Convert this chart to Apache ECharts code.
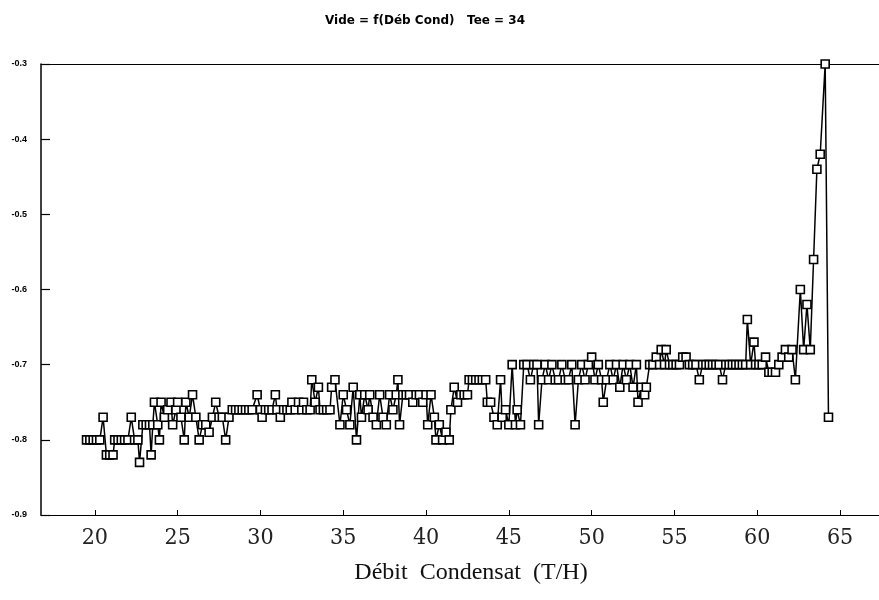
<!DOCTYPE html>
<html>
<head>
<meta charset="utf-8">
<script src="https://cdn.jsdelivr.net/npm/echarts@6/dist/echarts.min.js"></script>
<style>html,body{margin:0;padding:0;background:#fff;}#c{width:879px;height:600px;}</style>
</head>
<body>
<div id="c"></div>
<script>
// Débit condensat (T/H)
const debit = [
  19.5,19.7,19.9,20.1,20.3,20.5,20.7,20.9,21.1,21.2,21.4,21.6,21.8,22.0,22.2,22.4,22.6,22.7,
  22.9,23.1,23.3,23.4,23.5,23.6,23.8,23.9,24.0,24.2,24.4,24.6,24.7,24.9,25.0,25.2,25.4,25.5,25.7,25.9,26.1,26.3,26.5,26.7,26.9,27.1,27.3,27.5,27.7,27.9,28.1,
  28.3,28.5,28.7,28.9,29.1,29.3,29.5,29.8,30.0,30.1,30.3,30.5,30.7,30.9,31.0,31.2,31.4,31.6,31.8,31.9,32.1,32.3,32.5,32.6,32.8,33.0,33.1,33.3,33.5,33.6,33.8,34.0,34.2,34.3,34.5,
  34.8,35.0,35.2,35.4,35.6,35.8,36.0,36.1,36.3,36.5,36.6,36.8,37.0,37.2,37.4,37.6,37.8,38.0,38.2,38.3,38.4,38.6,
  38.8,39.0,39.2,39.4,39.6,39.8,40.0,40.1,40.3,40.5,40.6,40.8,41.0,41.2,41.4,41.5,41.7,41.9,42.1,42.3,42.5,42.6,42.8,43.0,43.2,43.4,43.6,43.7,43.9,44.1,44.3,44.5,44.6,44.8,45.0,45.2,45.4,
  45.5,45.7,45.9,46.1,46.3,46.5,46.7,46.8,47.0,47.2,47.4,47.6,47.8,48.0,48.2,48.4,48.6,48.8,49.0,49.2,49.4,49.6,49.8,50.0,50.2,50.4,50.6,50.7,50.9,51.1,51.3,51.5,51.7,51.9,52.1,52.3,52.5,52.7,52.8,53.0,53.2,53.3,53.5,53.7,53.9,54.1,
  54.2,54.4,54.5,54.7,54.9,55.1,55.3,55.5,55.7,55.9,56.1,56.3,56.5,56.7,56.9,57.1,57.3,57.5,57.7,57.9,58.1,58.3,58.5,58.7,58.9,59.1,59.3,59.4,59.6,59.8,59.9,
  60.1,60.3,60.5,60.7,60.9,61.1,61.3,61.5,61.7,61.9,62.1,62.3,62.6,62.8,63.0,63.2,63.4,63.6,63.8,64.1,64.3
];
// Vide
const vide = [
  -0.80,-0.80,-0.80,-0.80,-0.80,-0.77,-0.82,-0.82,-0.82,-0.80,-0.80,-0.80,-0.80,-0.80,-0.77,-0.80,-0.80,-0.83,
  -0.78,-0.78,-0.78,-0.82,-0.78,-0.75,-0.78,-0.80,-0.75,-0.77,-0.76,-0.75,-0.78,-0.76,-0.75,-0.77,-0.80,-0.75,-0.77,-0.74,-0.77,-0.80,-0.78,-0.78,-0.79,-0.77,-0.75,-0.77,-0.77,-0.80,-0.77,
  -0.76,-0.76,-0.76,-0.76,-0.76,-0.76,-0.76,-0.74,-0.76,-0.77,-0.76,-0.76,-0.76,-0.74,-0.76,-0.77,-0.76,-0.76,-0.76,-0.75,-0.76,-0.75,-0.76,-0.75,-0.76,-0.76,-0.72,-0.75,-0.73,-0.76,-0.76,-0.76,-0.76,-0.73,-0.72,
  -0.78,-0.74,-0.76,-0.78,-0.73,-0.80,-0.74,-0.77,-0.74,-0.76,-0.74,-0.77,-0.78,-0.74,-0.77,-0.78,-0.74,-0.76,-0.74,-0.72,-0.78,-0.74,
  -0.74,-0.74,-0.75,-0.74,-0.74,-0.75,-0.74,-0.78,-0.74,-0.77,-0.80,-0.78,-0.80,-0.79,-0.80,-0.76,-0.73,-0.75,-0.74,-0.74,-0.74,-0.72,-0.72,-0.72,-0.72,-0.72,-0.72,-0.75,-0.75,-0.77,-0.78,-0.72,-0.77,-0.76,-0.78,-0.70,-0.78,
  -0.76,-0.78,-0.70,-0.70,-0.72,-0.70,-0.70,-0.78,-0.72,-0.70,-0.72,-0.70,-0.72,-0.72,-0.70,-0.72,-0.72,-0.70,-0.78,-0.72,-0.70,-0.72,-0.70,-0.69,-0.72,-0.70,-0.72,-0.75,-0.72,-0.70,-0.72,-0.70,-0.73,-0.70,-0.72,-0.70,-0.73,-0.70,-0.75,-0.73,-0.74,-0.73,-0.70,-0.70,-0.69,-0.70,
  -0.68,-0.70,-0.68,-0.70,-0.70,-0.70,-0.70,-0.69,-0.69,-0.70,-0.70,-0.70,-0.72,-0.70,-0.70,-0.70,-0.70,-0.70,-0.70,-0.72,-0.70,-0.70,-0.70,-0.70,-0.70,-0.70,-0.70,-0.64,-0.70,-0.67,-0.70,
  -0.70,-0.70,-0.69,-0.71,-0.71,-0.71,-0.70,-0.69,-0.68,-0.69,-0.68,-0.72,-0.60,-0.68,-0.62,-0.68,-0.56,-0.44,-0.42,-0.30,-0.77
];
const xTicks = [20,25,30,35,40,45,50,55,60,65];
const titleText = 'Vide = f(Déb Cond)   Tee = 34';
const xName = 'Débit  Condensat  (T/H)';

const points = debit.map((x, i) => [x, vide[i]]);

const chart = echarts.init(document.getElementById('c'), null, {renderer: 'canvas'});
chart.setOption({
  animation: false,
  backgroundColor: '#ffffff',
  title: {
    text: titleText,
    left: 420, top: 10, textAlign: 'center',
    textStyle: {fontFamily: 'DejaVu Sans', fontSize: 12, fontWeight: 'bold', color: '#000'}
  },
  grid: {left: 41, right: 0, top: 64, bottom: 85, containLabel: false},
  xAxis: [{
    type: 'value', min: 16.75, max: 67.35,
    name: xName, nameLocation: 'middle', nameGap: 46,
    nameTextStyle: {fontFamily: 'Liberation Serif', fontSize: 24, color: '#111', padding: [0, 0, 0, 22]},
    axisLine: {show: true, lineStyle: {color: '#000', width: 1.2}},
    axisTick: {show: true, inside: true, length: 5, customValues: xTicks, lineStyle: {color: '#000'}},
    axisLabel: {customValues: xTicks, margin: 12, fontFamily: 'DejaVu Serif Condensed', fontSize: 23, color: '#222'},
    splitLine: {show: false}
  }, {
    type: 'value', position: 'top', min: 16.75, max: 67.35,
    axisLine: {show: true, lineStyle: {color: '#000', width: 1.2}},
    axisTick: {show: false}, axisLabel: {show: false}, splitLine: {show: false}
  }],
  yAxis: {
    type: 'value', min: -0.9, max: -0.3, interval: 0.1,
    axisLine: {show: true, lineStyle: {color: '#000', width: 1.5}},
    axisTick: {show: true, inside: true, length: 9, lineStyle: {color: '#000', width: 1.2}},
    axisLabel: {
      margin: 14, fontFamily: 'Liberation Sans', fontSize: 9, fontWeight: 'bold', color: '#000',
      formatter: v => v.toFixed(1)
    },
    splitLine: {show: false}
  },
  series: [{
    type: 'line',
    xAxisIndex: 0,
    data: points,
    symbol: 'rect',
    symbolSize: 8,
    showAllSymbol: true,
    lineStyle: {color: '#000', width: 1.5},
    itemStyle: {color: '#fff', borderColor: '#000', borderWidth: 1.6}
  }]
});
</script>
</body>
</html>
